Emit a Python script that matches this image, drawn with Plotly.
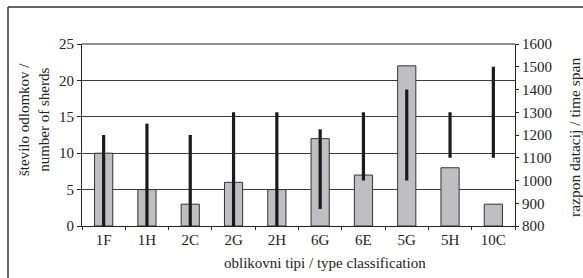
import plotly.graph_objects as go

categories = ["1F", "1H", "2C", "2G", "2H", "6G", "6E", "5G", "5H", "10C"]
sherd_counts = [10, 5, 3, 6, 5, 12, 7, 22, 8, 3]
span_start = [800, 800, 800, 800, 800, 875, 1000, 1000, 1100, 1100]
span_end = [1200, 1250, 1200, 1300, 1300, 1225, 1300, 1400, 1300, 1500]
left_ticks = [0, 5, 10, 15, 20, 25]
right_ticks = [800, 900, 1000, 1100, 1200, 1300, 1400, 1500, 1600]

FONT = "Liberation Serif, Times New Roman, DejaVu Serif, serif"
W, H = 583, 278
L, R, T, B = 82, 68, 44, 52
pw, ph = W - L - R, H - T - B

def px(x):
    return (x - L) / pw

def py(y):
    return (H - B - y) / ph

fig = go.Figure()
fig.add_trace(go.Bar(
    x=categories, y=sherd_counts, width=0.42,
    marker=dict(color="#bfbfc3", line=dict(color="#333333", width=1)),
    showlegend=False, hoverinfo="skip",
))

lx, ly = [], []
for c, s, e in zip(categories, span_start, span_end):
    lx += [c, c, None]
    ly += [s, e, None]
fig.add_trace(go.Scatter(
    x=lx, y=ly, yaxis="y2", mode="lines",
    line=dict(color="#1a1a1a", width=3.2),
    showlegend=False, hoverinfo="skip", connectgaps=False,
))

fig.update_layout(
    width=W, height=H,
    margin=dict(l=L, r=R, t=T, b=B, pad=0),
    paper_bgcolor="white", plot_bgcolor="white",
    font=dict(family=FONT, size=15, color="#222222"),
    xaxis=dict(
        type="category", showline=True, linecolor="#222222", linewidth=1,
        ticks="outside", tickson="boundaries", ticklen=3, tickcolor="#222222",
        tickfont=dict(family=FONT, size=15), showgrid=False, mirror=False,
    ),
    yaxis=dict(
        range=[0, 25], tickvals=left_ticks, showline=True, linecolor="#222222",
        linewidth=1, ticks="outside", ticklen=4, tickcolor="#222222",
        showgrid=True, gridcolor="#3a3a3a", gridwidth=1, zeroline=False,
        tickfont=dict(family=FONT, size=15),
    ),
    yaxis2=dict(
        range=[800, 1600], tickvals=right_ticks, overlaying="y", side="right",
        showline=True, linecolor="#222222", linewidth=1, ticks="outside",
        ticklen=3, tickcolor="#222222", showgrid=False, zeroline=False,
        tickfont=dict(family=FONT, size=15),
    ),
    shapes=[
        dict(type="line", xref="paper", yref="paper", x0=0, x1=1, y0=1, y1=1,
             line=dict(color="#222222", width=1)),
        dict(type="line", xref="paper", yref="paper", x0=px(8), x1=px(8),
             y0=py(7), y1=py(H), line=dict(color="#333333", width=1.5)),
        dict(type="line", xref="paper", yref="paper", x0=px(8), x1=px(W),
             y0=py(7), y1=py(7), line=dict(color="#333333", width=1.5)),
    ],
    annotations=[
        dict(text="število odlomkov /<br>number of sherds", xref="paper", yref="paper",
             x=px(34), y=py(120), textangle=-90, showarrow=False,
             font=dict(family=FONT, size=15), xanchor="center", yanchor="middle"),
        dict(text="razpon datacij / time span", xref="paper", yref="paper",
             x=px(574), y=py(138), textangle=-90, showarrow=False,
             font=dict(family=FONT, size=15.5), xanchor="center", yanchor="middle"),
        dict(text="oblikovni tipi / type classification", xref="paper", yref="paper",
             x=px(325), y=py(263), showarrow=False,
             font=dict(family=FONT, size=15), xanchor="center", yanchor="middle"),
    ],
)

fig.write_html("out.html", config={"displayModeBar": False},
               post_script="document.body.style.margin='0';")
